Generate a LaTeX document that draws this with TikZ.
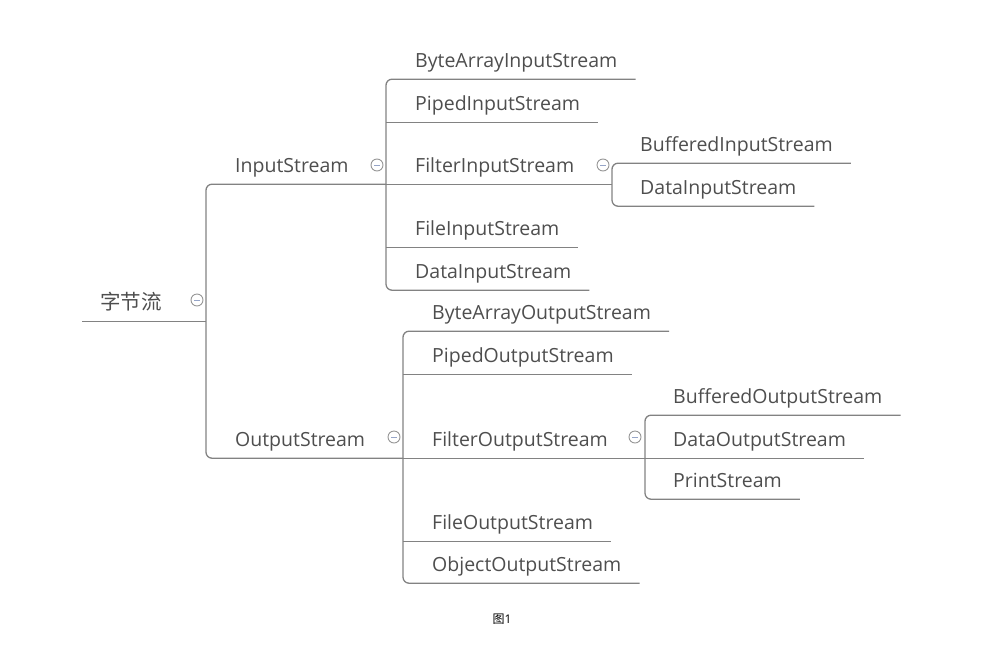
\documentclass[tikz,border=0pt]{standalone}
\usepackage{fontspec}
\setmainfont{Open Sans}
\newfontfamily\cjk{Noto Sans CJK SC}
\usepackage{xcolor}
\usepackage{tikz}
\usetikzlibrary{positioning}

\definecolor{topictext}{RGB}{78,78,78}
\definecolor{branchgray}{RGB}{130,130,130}
\definecolor{foldgray}{RGB}{150,150,150}
\definecolor{foldblue}{RGB}{150,165,200}

\begin{document}
\begin{tikzpicture}[
    x=1pt, y=-1pt,
    font=\fontsize{19.5}{22}\selectfont,
    topic/.style  ={anchor=base west, inner xsep=0pt, inner ysep=12pt,
                    text depth=0pt, text=topictext},
    branch/.style ={draw=branchgray, line width=1.3pt},
    bracket/.style={branch, rounded corners=6pt},
    fold/.style   ={circle, draw=foldgray, fill=white, line width=0.9pt,
                    minimum size=12pt, inner sep=0pt,
                    path picture={\draw[foldblue, line width=1pt]
                      ([xshift=-3pt]path picture bounding box.center) --
                      ([xshift=3pt]path picture bounding box.center);}},
    caption/.style={font=\fontsize{12}{14}\selectfont, text=black, inner sep=1pt}
]
\useasboundingbox (0,0) rectangle (982,646);

% --- Bracket columns (x of each vertical bus). ---
\coordinate (rootbus) at (206,0);
\coordinate (inbus)   at (386,0);
\coordinate (fisbus)  at (612,0);
\coordinate (outbus)  at (403,0);
\coordinate (fosbus)  at (645,0);

% --- Root and the two main branches. ---
\node[topic] (root) at (100,309) {\cjk\fontsize{20.5}{22}\selectfont 字节流};
\node[topic] (in)   at (235,172) {InputStream};
\node[topic] (out)  at (235,446) {OutputStream};

% --- InputStream children. ---
\node[topic] (bais)   at (415, 67) {ByteArrayInputStream};
\node[topic] (pis)    at (415,110) {PipedInputStream};
\node[topic] (fis)    at (415,172) {FilterInputStream};
\node[topic] (fileis) at (415,235) {FileInputStream};
\node[topic] (dis)    at (415,278) {DataInputStream};
\node[topic] (bis)    at (640,151) {BufferedInputStream};
\node[topic] (fdis)   at (640,194) {DataInputStream};

% --- OutputStream children. ---
\node[topic] (baos)   at (432,319) {ByteArrayOutputStream};
\node[topic] (pos)    at (432,362) {PipedOutputStream};
\node[topic] (fos)    at (432,446) {FilterOutputStream};
\node[topic] (fileos) at (432,529) {FileOutputStream};
\node[topic] (oos)    at (432,571) {ObjectOutputStream};
\node[topic] (bos)    at (673,403) {BufferedOutputStream};
\node[topic] (dos)    at (673,446) {DataOutputStream};
\node[topic] (ps)     at (673,487) {PrintStream};

% --- Root stem and bracket. ---
\draw[branch] ([xshift=-18pt]root.south west) -- (root.south -| rootbus);
\draw[bracket] (in.south -| inbus) -- (in.south -| rootbus)
            -- (out.south -| rootbus) -- (out.south -| outbus);

% --- InputStream bracket. ---
\draw[bracket] ([xshift=18pt]bais.south east) -- (bais.south -| inbus)
            -- (dis.south -| inbus) -- ([xshift=18pt]dis.south east);
\draw[branch] (pis.south -| inbus)    -- ([xshift=18pt]pis.south east);
\draw[branch] (fis.south -| inbus)    -- (fis.south -| fisbus);
\draw[branch] (fileis.south -| inbus) -- ([xshift=18pt]fileis.south east);
\draw[bracket] ([xshift=18pt]bis.south east) -- (bis.south -| fisbus)
            -- (fdis.south -| fisbus) -- ([xshift=18pt]fdis.south east);

% --- OutputStream bracket. ---
\draw[bracket] ([xshift=18pt]baos.south east) -- (baos.south -| outbus)
            -- (oos.south -| outbus) -- ([xshift=18pt]oos.south east);
\draw[branch] (pos.south -| outbus)    -- ([xshift=18pt]pos.south east);
\draw[branch] (fos.south -| outbus)    -- (fos.south -| fosbus);
\draw[branch] (fileos.south -| outbus) -- ([xshift=18pt]fileos.south east);
\draw[bracket] ([xshift=18pt]bos.south east) -- (bos.south -| fosbus)
            -- (ps.south -| fosbus) -- ([xshift=18pt]ps.south east);
\draw[branch] (dos.south -| fosbus) -- ([xshift=18pt]dos.south east);

% --- Collapse markers. ---
\node[fold] (rootfold) at (197,300) {};
\node[fold] (infold)   at (377,165) {};
\node[fold] (fisfold)  at (603,165) {};
\node[fold] (outfold)  at (394,437) {};
\node[fold] (fosfold)  at (635,437) {};

% --- Caption. ---
\node[caption] (fig) at (502,619) {{\cjk 图}1};

\end{tikzpicture}
\end{document}
